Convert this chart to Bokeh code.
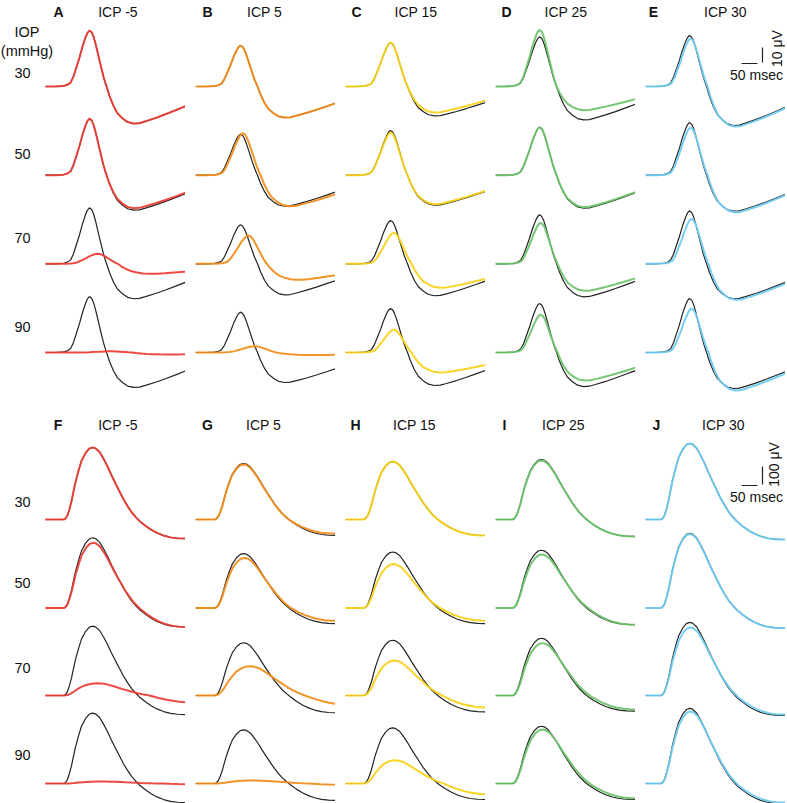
import numpy as np
from bokeh.plotting import figure
from bokeh.layouts import row, column
from bokeh.models import Spacer, Range1d
from bokeh.core.properties import value
from bokeh.embed import file_html
from bokeh.resources import INLINE

# ---------------- data ----------------
iop_levels = ["30", "50", "70", "90"]
icp_labels = ["ICP -5", "ICP 5", "ICP 15", "ICP 25", "ICP 30"]
top_letters = ["A", "B", "C", "D", "E"]
bot_letters = ["F", "G", "H", "I", "J"]
colors = ["#EA4038", "#F28E1C", "#F9D21A", "#6FC46D", "#70CBEF"]
black = "#222222"

# normalised waveform shapes (peak = 1, trough = -1), time in msec
top_t_ms = [0, 31, 57, 69, 79, 88, 97, 107, 116, 126, 132, 138, 145, 151, 157, 163, 170,
            176, 182, 189, 192, 201, 214, 226, 242, 258, 277, 295, 314, 346, 377, 409, 440]
top_shape = [0, 0, 0.01, 0.03, 0.07, 0.18, 0.34, 0.52, 0.71, 0.88, 0.96, 1.0, 0.97, 0.89,
             0.77, 0.63, 0.46, 0.32, 0.18, 0.05, 0.0, -0.25, -0.53, -0.72, -0.86, -0.96,
             -1.0, -0.99, -0.94, -0.85, -0.75, -0.64, -0.53]
bot_t_ms = [0, 57, 63, 69, 75, 82, 88, 94, 104, 113, 126, 138, 148, 157, 170, 182, 195,
            207, 220, 233, 245, 258, 270, 283, 295, 314, 333, 352, 371, 393, 415, 440]
bot_shape = [0, 0, 0.014, 0.056, 0.139, 0.257, 0.389, 0.514, 0.681, 0.813, 0.924, 0.986,
             1.0, 0.990, 0.938, 0.847, 0.736, 0.618, 0.5, 0.386, 0.281, 0.186, 0.104, 0.036,
             -0.074, -0.332, -0.547, -0.716, -0.842, -0.937, -0.984, -1.0]

# top panels (A-E), µV ; rows = IOP 30, 50, 70, 90
top_black_peak = [[37.3, 37.7, 37.3, 37.3], [27.3, 27.3, 26.0, 26.9], [29.3, 29.8, 28.9, 29.3],
                  [33.1, 32.0, 32.7, 32.7], [34.0, 35.1, 35.3, 36.0]]
top_black_trough = [[24.7, 23.3, 23.3, 23.3], [20.7, 20.7, 20.7, 20.0], [19.6, 20.0, 21.3, 22.0],
                    [22.3, 22.0, 22.0, 22.7], [26.0, 24.0, 23.3, 24.0]]
top_black_shift = [0, 3, 3, 0, 0]
top_col_peak = [[37.3, 37.7, 6.7, 0.8], [27.3, 28.0, 18.9, 4.2], [29.3, 28.5, 20.7, 15.3],
                [37.7, 32.0, 27.3, 25.3], [32.0, 31.8, 30.0, 29.3]]
top_col_trough = [[24.7, 22.0, 6.7, 1.3], [20.7, 20.7, 10.7, 1.7], [17.3, 19.3, 16.0, 13.3],
                  [15.8, 21.3, 18.0, 18.7], [26.7, 24.7, 24.0, 25.3]]
top_col_shift = [[0, 0, 9, 41], [0, 3, 16, 20], [0, 0, 6, 6], [0, 0, 3, 3], [3, 3, 6, 6]]
top_col_stretch = [[1.0, 1.0, 1.2, 1.3], [1.0, 1.05, 1.1, 1.3], [1.0, 1.0, 1.05, 1.05],
                   [1.0, 1.0, 1.0, 1.0], [1.0, 1.0, 1.0, 1.0]]

# bottom panels (F-J), µV
bot_black_peak = [[400, 390, 385, 391], [311, 302, 293, 298], [322, 311, 307, 309],
                  [333, 321, 318, 318], [422, 415, 406, 417]]
bot_black_trough = [[106, 106, 106, 106], [89, 87, 96, 94], [89, 87, 91, 89],
                    [94, 93, 87, 89], [111, 111, 111, 111]]
bot_black_shift = [0, 3, 0, -4, -9]
bot_col_peak = [[400, 362, 68, 11], [306, 278, 163, 17], [322, 244, 194, 129],
                [328, 297, 291, 300], [422, 411, 378, 400]]
bot_col_trough = [[106, 106, 41, 6], [78, 72, 56, 11], [89, 71, 68, 61],
                  [94, 93, 79, 83], [111, 111, 106, 106]]
bot_col_shift = [[0, 0, 0, 0], [0, 0, 0, 0], [0, 0, 0, 0], [0, 0, 0, 0], [0, 0, 0, 0]]
bot_col_stretch = [[1.0, 1.02, 1.16, 1.3], [1.0, 1.03, 1.22, 1.3], [1.0, 1.03, 1.06, 1.08],
                   [1.0, 1.02, 1.04, 1.04], [1.0, 1.0, 1.02, 1.02]]

scale_ms = 50
scale_top_uv = 10
scale_bot_uv = 100

# ---------------- layout constants ----------------
K = 440.0 / 140.0            # msec per pixel
TOP_PX_UV = 1.5              # pixels per µV (top)
BOT_PX_UV = 0.18             # pixels per µV (bottom)
trace_left = [45, 195, 345, 495, 645]
top_base = [86, 174.7, 263.3, 352]
bot_base = [519, 607.5, 695, 783]
TOP_IMG = (0, 405)
BOT_IMG = (405, 803)
FONT = value("Liberation Sans")


def xd(col, img_x):
    return (img_x - trace_left[col]) * K


def yd(half, img_y):
    if half == 0:
        return (top_base[0] - img_y) / TOP_PX_UV
    return (bot_base[0] - img_y) / BOT_PX_UV


def wave(t, shape, peak, trough, shift, stretch, pivot):
    t = np.array(t, float)
    s = np.array(shape, float)
    y = np.where(s >= 0, s * peak, s * trough)
    x = pivot + (t - pivot) * stretch + shift
    x[0] = 0.0
    if x[-1] < 440:
        x = np.append(x, 440.0)
        y = np.append(y, y[-1])
    return x, y


def mk_fig(col, half):
    w = 185 if col == 0 else 140
    x0 = -trace_left[0] * K if col == 0 else 0.0
    img = TOP_IMG if half == 0 else BOT_IMG
    h = img[1] - img[0]
    p = figure(width=w, height=h, x_range=Range1d(x0, 440), y_range=Range1d(yd(half, img[1]), yd(half, img[0])),
               output_backend="svg", toolbar_location=None, x_axis_location=None, y_axis_location=None,
               min_border=0, outline_line_color=None, background_fill_color="white",
               border_fill_color="white", title=None)
    p.grid.visible = False
    return p


def txt(p, x, y, s, size="14px", bold=False, align="center", angle=0.0):
    p.text(x=[x], y=[y], text=[s], text_font=FONT, text_font_size=value(size),
           text_font_style="bold" if bold else "normal", text_align=align,
           text_baseline="middle", text_color="#111111", angle=angle)


letter_x = [[58, 207, 356, 506, 653], [57.5, 207, 355, 504, 656]]
icp_x = [[117.5, 264, 415.5, 565.5, 725], [117.5, 263, 414, 563, 723]]
title_y = [11, 424]
iop_y = [[72, 153, 237.5, 326], [501, 582.5, 667, 754]]

halves = []
for half in (0, 1):
    tt = top_t_ms if half == 0 else bot_t_ms
    sh = top_shape if half == 0 else bot_shape
    piv = 60.0 if half == 0 else 57.0
    bpk = top_black_peak if half == 0 else bot_black_peak
    btr = top_black_trough if half == 0 else bot_black_trough
    bsh = top_black_shift if half == 0 else bot_black_shift
    cpk = top_col_peak if half == 0 else bot_col_peak
    ctr = top_col_trough if half == 0 else bot_col_trough
    csh = top_col_shift if half == 0 else bot_col_shift
    cst = top_col_stretch if half == 0 else bot_col_stretch
    base = top_base if half == 0 else bot_base
    scale = TOP_PX_UV if half == 0 else BOT_PX_UV
    figs = []
    for c in range(5):
        p = mk_fig(c, half)
        for r in range(4):
            off = (base[0] - base[r]) / scale
            xb, yb = wave(tt, sh, bpk[c][r], btr[c][r], bsh[c], 1.0, piv)
            p.line(xb, yb + off, line_color=black, line_width=1.2)
            xc, yc = wave(tt, sh, cpk[c][r], ctr[c][r], bsh[c] + csh[c][r], cst[c][r], piv)
            p.line(xc, yc + off, line_color=colors[c], line_width=2.0, line_alpha=0.95)
        letters = top_letters if half == 0 else bot_letters
        txt(p, xd(c, letter_x[half][c]), yd(half, title_y[half]), letters[c], bold=True)
        txt(p, xd(c, icp_x[half][c]), yd(half, title_y[half]), icp_labels[c])
        if c == 0:
            if half == 0:
                txt(p, xd(0, 26.5), yd(0, 31.5), "IOP", size="14.5px")
                txt(p, xd(0, 26.5), yd(0, 50), "(mmHg)", size="14.5px")
            for r in range(4):
                txt(p, xd(0, 22), yd(half, iop_y[half][r]), iop_levels[r], size="14.5px")
        if c == 4:
            uv = scale_top_uv if half == 0 else scale_bot_uv
            hb_y = 63 if half == 0 else 485
            vb_bot = 62 if half == 0 else 484
            xr = xd(4, 757)
            p.line([xr - scale_ms, xr], [yd(half, hb_y)] * 2, line_color=black, line_width=1.2)
            xv = xd(4, 762)
            p.line([xv, xv], [yd(half, vb_bot), yd(half, vb_bot) + uv], line_color=black, line_width=1.2)
            txt(p, xd(4, 756), yd(half, hb_y + 11.5), "50 msec")
            if half == 0:
                txt(p, xd(4, 776), yd(0, 48), "10 μV", angle=np.pi / 2)
            else:
                txt(p, xd(4, 773), yd(1, 464), "100 μV", angle=np.pi / 2)
        figs.append(p)
    h = figs[0].height
    items = []
    for i, f in enumerate(figs):
        if i > 0:
            items.append(Spacer(width=10, height=h))
        items.append(f)
    halves.append(row(*items))

layout = column(*halves)
open("out.html", "w").write(file_html(layout, INLINE))
